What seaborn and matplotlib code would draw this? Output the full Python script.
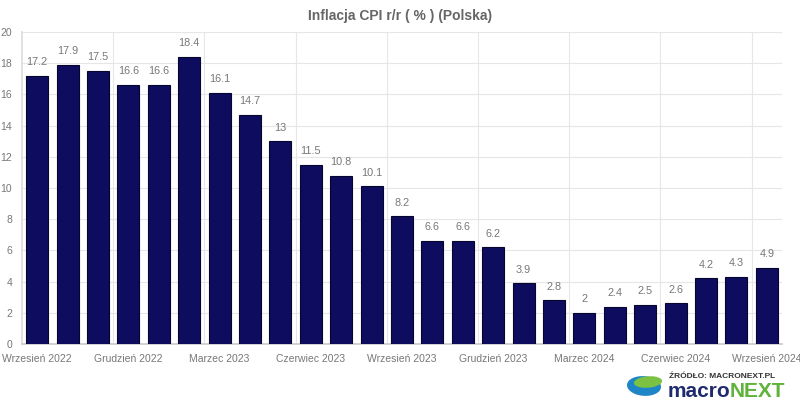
import matplotlib
matplotlib.use("Agg")
import matplotlib.pyplot as plt
from matplotlib.patches import Ellipse
import seaborn as sns
import pandas as pd

months = ["Wrzesień 2022", "Październik 2022", "Listopad 2022", "Grudzień 2022",
          "Styczeń 2023", "Luty 2023", "Marzec 2023", "Kwiecień 2023", "Maj 2023",
          "Czerwiec 2023", "Lipiec 2023", "Sierpień 2023", "Wrzesień 2023",
          "Październik 2023", "Listopad 2023", "Grudzień 2023", "Styczeń 2024",
          "Luty 2024", "Marzec 2024", "Kwiecień 2024", "Maj 2024", "Czerwiec 2024",
          "Lipiec 2024", "Sierpień 2024", "Wrzesień 2024"]
cpi = [17.2, 17.9, 17.5, 16.6, 16.6, 18.4, 16.1, 14.7, 13, 11.5, 10.8, 10.1,
       8.2, 6.6, 6.6, 6.2, 3.9, 2.8, 2, 2.4, 2.5, 2.6, 4.2, 4.3, 4.9]
value_labels = ["17.2", "17.9", "17.5", "16.6", "16.6", "18.4", "16.1", "14.7", "13",
                "11.5", "10.8", "10.1", "8.2", "6.6", "6.6", "6.2", "3.9", "2.8", "2",
                "2.4", "2.5", "2.6", "4.2", "4.3", "4.9"]
yticks = [0, 2, 4, 6, 8, 10, 12, 14, 16, 18, 20]

df = pd.DataFrame({"month": months, "cpi": cpi})

sns.set_theme(style="white")
plt.rcParams["font.family"] = ["Liberation Sans", "DejaVu Sans"]

fig = plt.figure(figsize=(8, 4), dpi=100)
ax = fig.add_axes([0.0275, 0.14, 0.95, 0.78])

sns.barplot(data=df, x="month", y="cpi", color="#0e0c5e", width=0.72,
            edgecolor="#06052e", linewidth=0.8, saturation=1, ax=ax, zorder=3)

for i, (v, t) in enumerate(zip(cpi, value_labels)):
    ax.text(i, v + 0.55, t, ha="center", va="bottom", fontsize=7.8, color="#777777")

ax.set_xlim(-0.5, len(months) - 0.5)
ax.set_ylim(0, 20)
ax.set_yticks(yticks)
ax.set_yticklabels([str(t) for t in yticks])
tick_pos = list(range(0, len(months), 3))
ax.set_xticks(tick_pos)
ax.set_xticklabels([months[i] for i in tick_pos])
ax.tick_params(axis="both", labelsize=7.5, length=5, width=0.8)
ax.tick_params(axis="x", length=0, pad=7)
ax.tick_params(axis="y", color="#dddddd", pad=2)
for lbl in ax.get_xticklabels() + ax.get_yticklabels():
    lbl.set_color("#777777")

for y in yticks[1:]:
    ax.axhline(y, color="#e6e6e6", linewidth=0.8, zorder=0)
for k in range(1, len(months) // 3 + 1):
    ax.axvline(-0.5 + 3 * k, color="#e6e6e6", linewidth=0.8, zorder=0)

for s in ["top", "right"]:
    ax.spines[s].set_visible(False)
ax.spines["left"].set_color("#dddddd")
ax.spines["bottom"].set_color("#cccccc")
ax.set_xlabel("")
ax.set_ylabel("")

fig.text(0.5, 0.96, "Inflacja CPI r/r ( % ) (Polska)", ha="center", va="center",
         fontsize=10, fontweight="bold", color="#666666")

# logo
fig.text(0.836, 0.06, "ŹRÓDŁO: MACRONEXT.PL", ha="left", va="center",
         fontsize=6, fontweight="bold", color="#333333")
t1 = fig.text(0.834, 0.022, "macro", ha="left", va="center", fontsize=15,
              fontweight="bold", color="#1f2a6e")
fig.canvas.draw()
bb = t1.get_window_extent()
x_next = bb.x1 / fig.bbox.width
fig.text(x_next, 0.022, "NEXT", ha="left", va="center", fontsize=15,
         fontweight="bold", color="#5fb33a")
fig.patches.append(Ellipse((0.805, 0.035), 0.042, 0.05, angle=15,
                           transform=fig.transFigure, facecolor="#1e86c6",
                           edgecolor="none"))
fig.patches.append(Ellipse((0.81, 0.045), 0.036, 0.028, angle=20,
                           transform=fig.transFigure, facecolor="#7cc242",
                           edgecolor="none"))

fig.savefig("out.png", dpi=100)
